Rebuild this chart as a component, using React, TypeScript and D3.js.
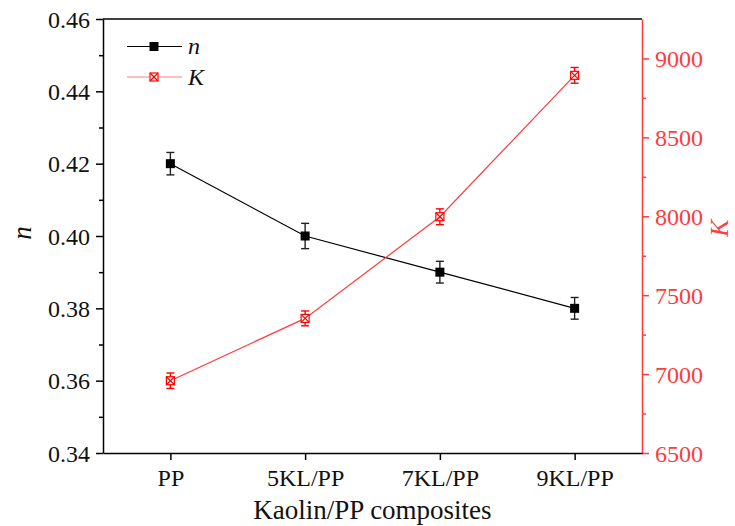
import React, { useEffect, useRef } from 'react';
import * as d3 from 'd3';

// categories and measured values
const categories = ['PP', '5KL/PP', '7KL/PP', '9KL/PP'];
const nValues = [0.42, 0.40, 0.39, 0.38];
const nErrors = [0.0031, 0.0035, 0.003, 0.003];
const kValues = [6958, 7353, 7997, 8893];
const kErrors = [49, 47, 50, 50];
const nTicks = [0.34, 0.36, 0.38, 0.40, 0.42, 0.44, 0.46];
const kTicks = [6500, 7000, 7500, 8000, 8500, 9000];

const RED = '#ff3b3b';
const FONT = 'Liberation Serif, Times New Roman, serif';

const App = () => {
  const svgRef = useRef<SVGSVGElement | null>(null);

  useEffect(() => {
    const width = 735;
    const height = 526;
    const margin = { top: 19, right: 93, bottom: 73, left: 103 };
    const innerW = width - margin.left - margin.right;
    const innerH = height - margin.top - margin.bottom;

    const svg = d3.select(svgRef.current);
    svg.selectAll('*').remove();
    svg.attr('width', width).attr('height', height);

    const g = svg.append('g').attr('transform', `translate(${margin.left},${margin.top})`);

    // scales
    const x = d3.scaleLinear().domain([0.5, 4.5]).range([0, innerW]);
    const yN = d3.scaleLinear().domain([0.34, 0.46]).range([innerH, 0]);
    const yK = d3.scaleLinear().domain([6500, 9250]).range([innerH, 0]);

    // top frame line
    g.append('line')
      .attr('x1', 0).attr('x2', innerW)
      .attr('y1', 0).attr('y2', 0)
      .attr('stroke', '#000').attr('stroke-width', 1.5);

    // left axis, major + minor ticks
    const leftMinor = d3.range(0.35, 0.46, 0.02);
    g.append('g')
      .call(d3.axisLeft(yN).tickValues(leftMinor).tickSize(4).tickFormat(() => ''))
      .call((a) => a.select('.domain').remove())
      .selectAll('line').attr('stroke-width', 1.5);
    const leftAxis = g.append('g')
      .call(d3.axisLeft(yN).tickValues(nTicks).tickSize(7).tickSizeOuter(0).tickPadding(6).tickFormat(d3.format('.2f')))
      .attr('font-family', FONT).attr('font-size', 24);
    leftAxis.select('.domain').attr('stroke-width', 1.5);
    leftAxis.selectAll('line').attr('stroke-width', 1.5);
    leftAxis.selectAll('text').attr('fill', '#111').attr('dy', '0.34em');

    // right axis in red
    const rightMinor = d3.range(6750, 9250, 500);
    g.append('g')
      .attr('transform', `translate(${innerW},0)`)
      .call(d3.axisRight(yK).tickValues(rightMinor).tickSize(4).tickFormat(() => ''))
      .call((a) => a.select('.domain').remove())
      .selectAll('line').attr('stroke', RED).attr('stroke-width', 1.5);
    const rightAxis = g.append('g')
      .attr('transform', `translate(${innerW},0)`)
      .call(d3.axisRight(yK).tickValues(kTicks).tickSize(7).tickSizeOuter(0).tickPadding(6).tickFormat(d3.format('d')))
      .attr('font-family', FONT).attr('font-size', 24);
    rightAxis.select('.domain').attr('stroke', RED).attr('stroke-width', 1.5);
    rightAxis.selectAll('line').attr('stroke', RED).attr('stroke-width', 1.5);
    rightAxis.selectAll('text').attr('fill', RED).attr('dy', '0.34em');

    // bottom axis
    const bottomAxis = g.append('g')
      .attr('transform', `translate(0,${innerH})`)
      .call(d3.axisBottom(x).tickValues([1, 2, 3, 4]).tickSize(7).tickSizeOuter(0).tickPadding(9)
        .tickFormat((d) => categories[(d as number) - 1]))
      .attr('font-family', FONT).attr('font-size', 24);
    bottomAxis.select('.domain').attr('stroke-width', 1.5);
    bottomAxis.selectAll('line').attr('stroke-width', 1.5);
    bottomAxis.selectAll('text').attr('fill', '#111');

    // axis titles
    svg.append('text')
      .attr('x', margin.left + innerW / 2).attr('y', 519)
      .attr('text-anchor', 'middle')
      .attr('font-family', FONT).attr('font-size', 27).attr('fill', '#111')
      .text('Kaolin/PP composites');
    svg.append('text')
      .attr('transform', `translate(31,233) rotate(-90)`)
      .attr('text-anchor', 'middle')
      .attr('font-family', FONT).attr('font-size', 27).attr('font-style', 'italic').attr('fill', '#111')
      .text('n');
    svg.append('text')
      .attr('transform', `translate(728,228) rotate(-90)`)
      .attr('text-anchor', 'middle')
      .attr('font-family', FONT).attr('font-size', 26).attr('font-style', 'italic').attr('fill', RED)
      .text('K');

    const idx = d3.range(categories.length);

    // n series
    g.append('path')
      .datum(idx)
      .attr('fill', 'none').attr('stroke', '#000').attr('stroke-width', 1.2)
      .attr('d', d3.line<number>().x((i) => x(i + 1)).y((i) => yN(nValues[i])));

    // K series
    g.append('path')
      .datum(idx)
      .attr('fill', 'none').attr('stroke', RED).attr('stroke-width', 1.2)
      .attr('d', d3.line<number>().x((i) => x(i + 1)).y((i) => yK(kValues[i])));

    const errorBar = (sel: any, cx: number, y0: number, y1: number, color: string) => {
      const e = sel.append('g').attr('stroke', color).attr('stroke-width', 1.4);
      e.append('line').attr('x1', cx).attr('x2', cx).attr('y1', y0).attr('y2', y1);
      e.append('line').attr('x1', cx - 4).attr('x2', cx + 4).attr('y1', y0).attr('y2', y0);
      e.append('line').attr('x1', cx - 4).attr('x2', cx + 4).attr('y1', y1).attr('y2', y1);
    };

    const squareMarker = (sel: any, cx: number, cy: number) => {
      sel.append('rect')
        .attr('x', cx - 4.5).attr('y', cy - 4.5).attr('width', 9).attr('height', 9)
        .attr('fill', '#000');
    };

    const crossMarker = (sel: any, cx: number, cy: number) => {
      const m = sel.append('g').attr('stroke', '#ff0000').attr('stroke-width', 1.2).attr('fill', '#fff');
      m.append('rect').attr('x', cx - 4).attr('y', cy - 4).attr('width', 8).attr('height', 8);
      m.append('line').attr('x1', cx - 4).attr('y1', cy - 4).attr('x2', cx + 4).attr('y2', cy + 4);
      m.append('line').attr('x1', cx - 4).attr('y1', cy + 4).attr('x2', cx + 4).attr('y2', cy - 4);
    };

    idx.forEach((i) => {
      const cx = x(i + 1);
      errorBar(g, cx, yN(nValues[i] + nErrors[i]), yN(nValues[i] - nErrors[i]), '#222');
      squareMarker(g, cx, yN(nValues[i]));
      errorBar(g, cx, yK(kValues[i] + kErrors[i]), yK(kValues[i] - kErrors[i]), '#ff0000');
      crossMarker(g, cx, yK(kValues[i]));
    });

    // legend
    const legend = svg.append('g');
    legend.append('line')
      .attr('x1', 127).attr('x2', 182).attr('y1', 46.5).attr('y2', 46.5)
      .attr('stroke', '#000').attr('stroke-width', 1.2);
    squareMarker(legend, 154, 46.5);
    legend.append('text')
      .attr('x', 188).attr('y', 54)
      .attr('font-family', FONT).attr('font-size', 24).attr('font-style', 'italic').attr('fill', '#111')
      .text('n');
    legend.append('line')
      .attr('x1', 127).attr('x2', 182).attr('y1', 77).attr('y2', 77)
      .attr('stroke', '#ff8080').attr('stroke-width', 1.2);
    crossMarker(legend, 154, 77);
    legend.append('text')
      .attr('x', 188).attr('y', 85)
      .attr('font-family', FONT).attr('font-size', 24).attr('font-style', 'italic').attr('fill', '#111')
      .text('K');
  }, []);

  return (
    <div>
      <svg ref={svgRef} style={{ position: 'absolute', left: 0, top: 0 }}></svg>
    </div>
  );
};

export default App;
